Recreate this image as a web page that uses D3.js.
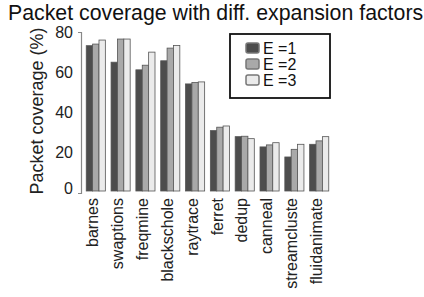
<!DOCTYPE html>
<html><head><meta charset="utf-8">
<script src="https://cdn.jsdelivr.net/npm/d3@7"></script>
<style>body{margin:0;background:#fff}svg{display:block;font-family:"Liberation Sans",Arial,sans-serif}</style>
</head><body>
<script>
const categories = ["barnes","swaptions","freqmine","blackschole","raytrace","ferret","dedup","canneal","streamcluste","fluidanimate"];
const seriesNames = ["E =1","E =2","E =3"];
const e1 = [73.2, 65, 61.2, 65.7, 54.2, 31, 28, 22.9, 17.9, 24.2];
const e2 = [74, 76.5, 63.5, 72, 54.9, 32.7, 28.2, 23.9, 21.7, 25.9];
const e3 = [76, 76.5, 70, 73.3, 55.2, 33.3, 27, 25, 24.2, 28];
const yTicks = [0, 20, 40, 60, 80];
const title = "Packet coverage with diff. expansion factors";
const yLabel = "Packet coverage (%)";

const series = [e1, e2, e3];
const colors = ["#4d4d4d", "#a9a9a9", "#ebebeb"];

const W = 424, H = 297;
const svg = d3.select("body").append("svg").attr("width", W).attr("height", H);

const y = d3.scaleLinear().domain([0, 80]).range([193, 32]);
const x = d3.scaleBand().domain(categories).range([85, 330]).paddingInner(0.23).paddingOuter(0.05);
const xs = d3.scaleBand().domain(d3.range(3)).range([0, x.bandwidth()]);

svg.append("text").attr("x", 8).attr("y", 20).attr("font-size", 21.3).attr("fill", "#111").text(title);

// y axis
const ya = svg.append("g").attr("transform", "translate(81,0)")
  .call(d3.axisLeft(y).tickValues(yTicks).tickSize(0).tickSizeOuter(3).tickPadding(8));
ya.select(".domain").attr("stroke", "#888").attr("stroke-width", 1.2);
ya.selectAll(".tick text").attr("font-size", 16).attr("fill", "#222")
  .attr("font-family", "Liberation Sans, Arial, sans-serif")
  .attr("dy", d => d === 0 ? "0.05em" : "0.32em");

svg.append("text").attr("transform", "translate(43,111) rotate(-90)")
  .attr("text-anchor", "middle").attr("font-size", 18).attr("fill", "#222").text(yLabel);

// bars
const g = svg.append("g");
categories.forEach((c, i) => {
  series.forEach((s, k) => {
    g.append("rect")
      .attr("x", x(c) + xs(k)).attr("width", xs.bandwidth())
      .attr("y", y(s[i])).attr("height", y(0) - 2 - y(s[i]))
      .attr("fill", colors[k]).attr("stroke", "#555").attr("stroke-width", 0.8);
  });
});

// x labels
categories.forEach(c => {
  svg.append("text")
    .attr("transform", `translate(${x(c) + x.bandwidth() / 2 - 3},198) rotate(-90)`)
    .attr("text-anchor", "end").attr("dy", "0.35em")
    .attr("font-size", 16).attr("fill", "#222").text(c);
});

// legend
const lg = svg.append("g");
lg.append("rect").attr("x", 230).attr("y", 34).attr("width", 100).attr("height", 64)
  .attr("fill", "#fff").attr("stroke", "#111").attr("stroke-width", 1.8);
seriesNames.forEach((n, k) => {
  const cy = 48 + k * 16;
  lg.append("rect").attr("x", 246).attr("y", cy - 5).attr("width", 13).attr("height", 10)
    .attr("rx", 2).attr("fill", colors[k]).attr("stroke", "#777").attr("stroke-width", 1.5);
  lg.append("text").attr("x", 263).attr("y", cy).attr("dy", "0.35em")
    .attr("font-size", 16).attr("fill", "#111").text(n);
});
</script>
</body></html>
